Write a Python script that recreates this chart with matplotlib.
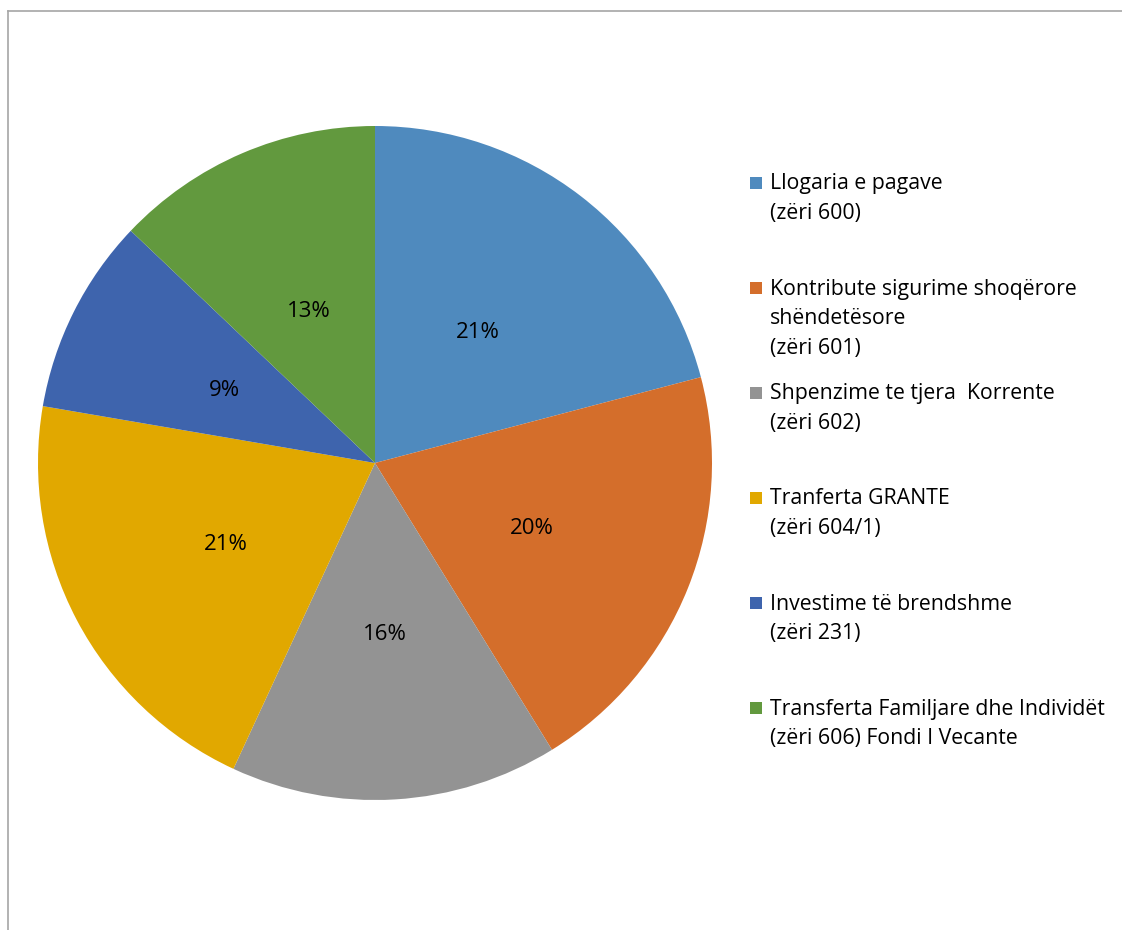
import matplotlib.pyplot as plt
from matplotlib.lines import Line2D
from matplotlib.patches import Rectangle

# Të dhënat (përqindjet e lexuara nga grafiku)
labels = [
    "Llogaria e pagave\n(zëri 600)",
    "Kontribute sigurime shoqërore\nshëndetësore\n(zëri 601)",
    "Shpenzime te tjera  Korrente\n(zëri 602)",
    "Tranferta GRANTE\n(zëri 604/1)",
    "Investime të brendshme\n(zëri 231)",
    "Transferta Familjare dhe Individët\n(zëri 606) Fondi I Vecante",
]
values = [20.9, 20.3, 15.7, 20.8, 9.4, 12.9]
colors = ["#4F8ABE", "#D46E2B", "#939393", "#E1A800", "#3E64AD", "#62993E"]

plt.rcParams['font.family'] = ['Open Sans', 'DejaVu Sans']

W, H = 1122, 930
fig = plt.figure(figsize=(W / 100, H / 100), dpi=100)

# pie centre (375, 463) px, radius 337 px
cx, cy, r = 375, 463, 337
ax = fig.add_axes([(cx - r) / W, (H - cy - r) / H, 2 * r / W, 2 * r / H])
wedges, texts, autotexts = ax.pie(
    values, colors=colors, startangle=90, counterclock=False,
    autopct=lambda p: f"{p:.0f}%", pctdistance=0.5,
    wedgeprops=dict(linewidth=0), textprops=dict(fontsize=16, color="#000000"))
for t in autotexts:
    x, y = t.get_position()
    t.set_position((x, y - 0.01))
ax.set_xlim(-1, 1)
ax.set_ylim(-1, 1)
ax.set_aspect('equal')
ax.axis('off')

# legjenda e bërë me dorë
x_box, x_txt = 750, 770
y0, step, line_h = 183, 105, 29.5
for i, (lab, col) in enumerate(zip(labels, colors)):
    yt = y0 + i * step
    fig.patches.append(Rectangle((x_box / W, 1 - (yt + 6) / H), 12 / W, 12 / H,
                                 transform=fig.transFigure, facecolor=col,
                                 edgecolor='none'))
    for j, line in enumerate(lab.split("\n")):
        fig.text(x_txt / W, 1 - (yt + 1 + j * line_h) / H, line, fontsize=15.3,
                 va='center', ha='left', color="#000000")

# kornizë (vetëm majtas dhe lart)
fig.add_artist(Line2D([8 / W, 8 / W], [0, 1 - 11 / H], transform=fig.transFigure,
                      color="#A6A6A6", linewidth=1.2))
fig.add_artist(Line2D([8 / W, 1], [1 - 11 / H, 1 - 11 / H], transform=fig.transFigure,
                      color="#A6A6A6", linewidth=1.2))

fig.savefig("out.png", dpi=100)
